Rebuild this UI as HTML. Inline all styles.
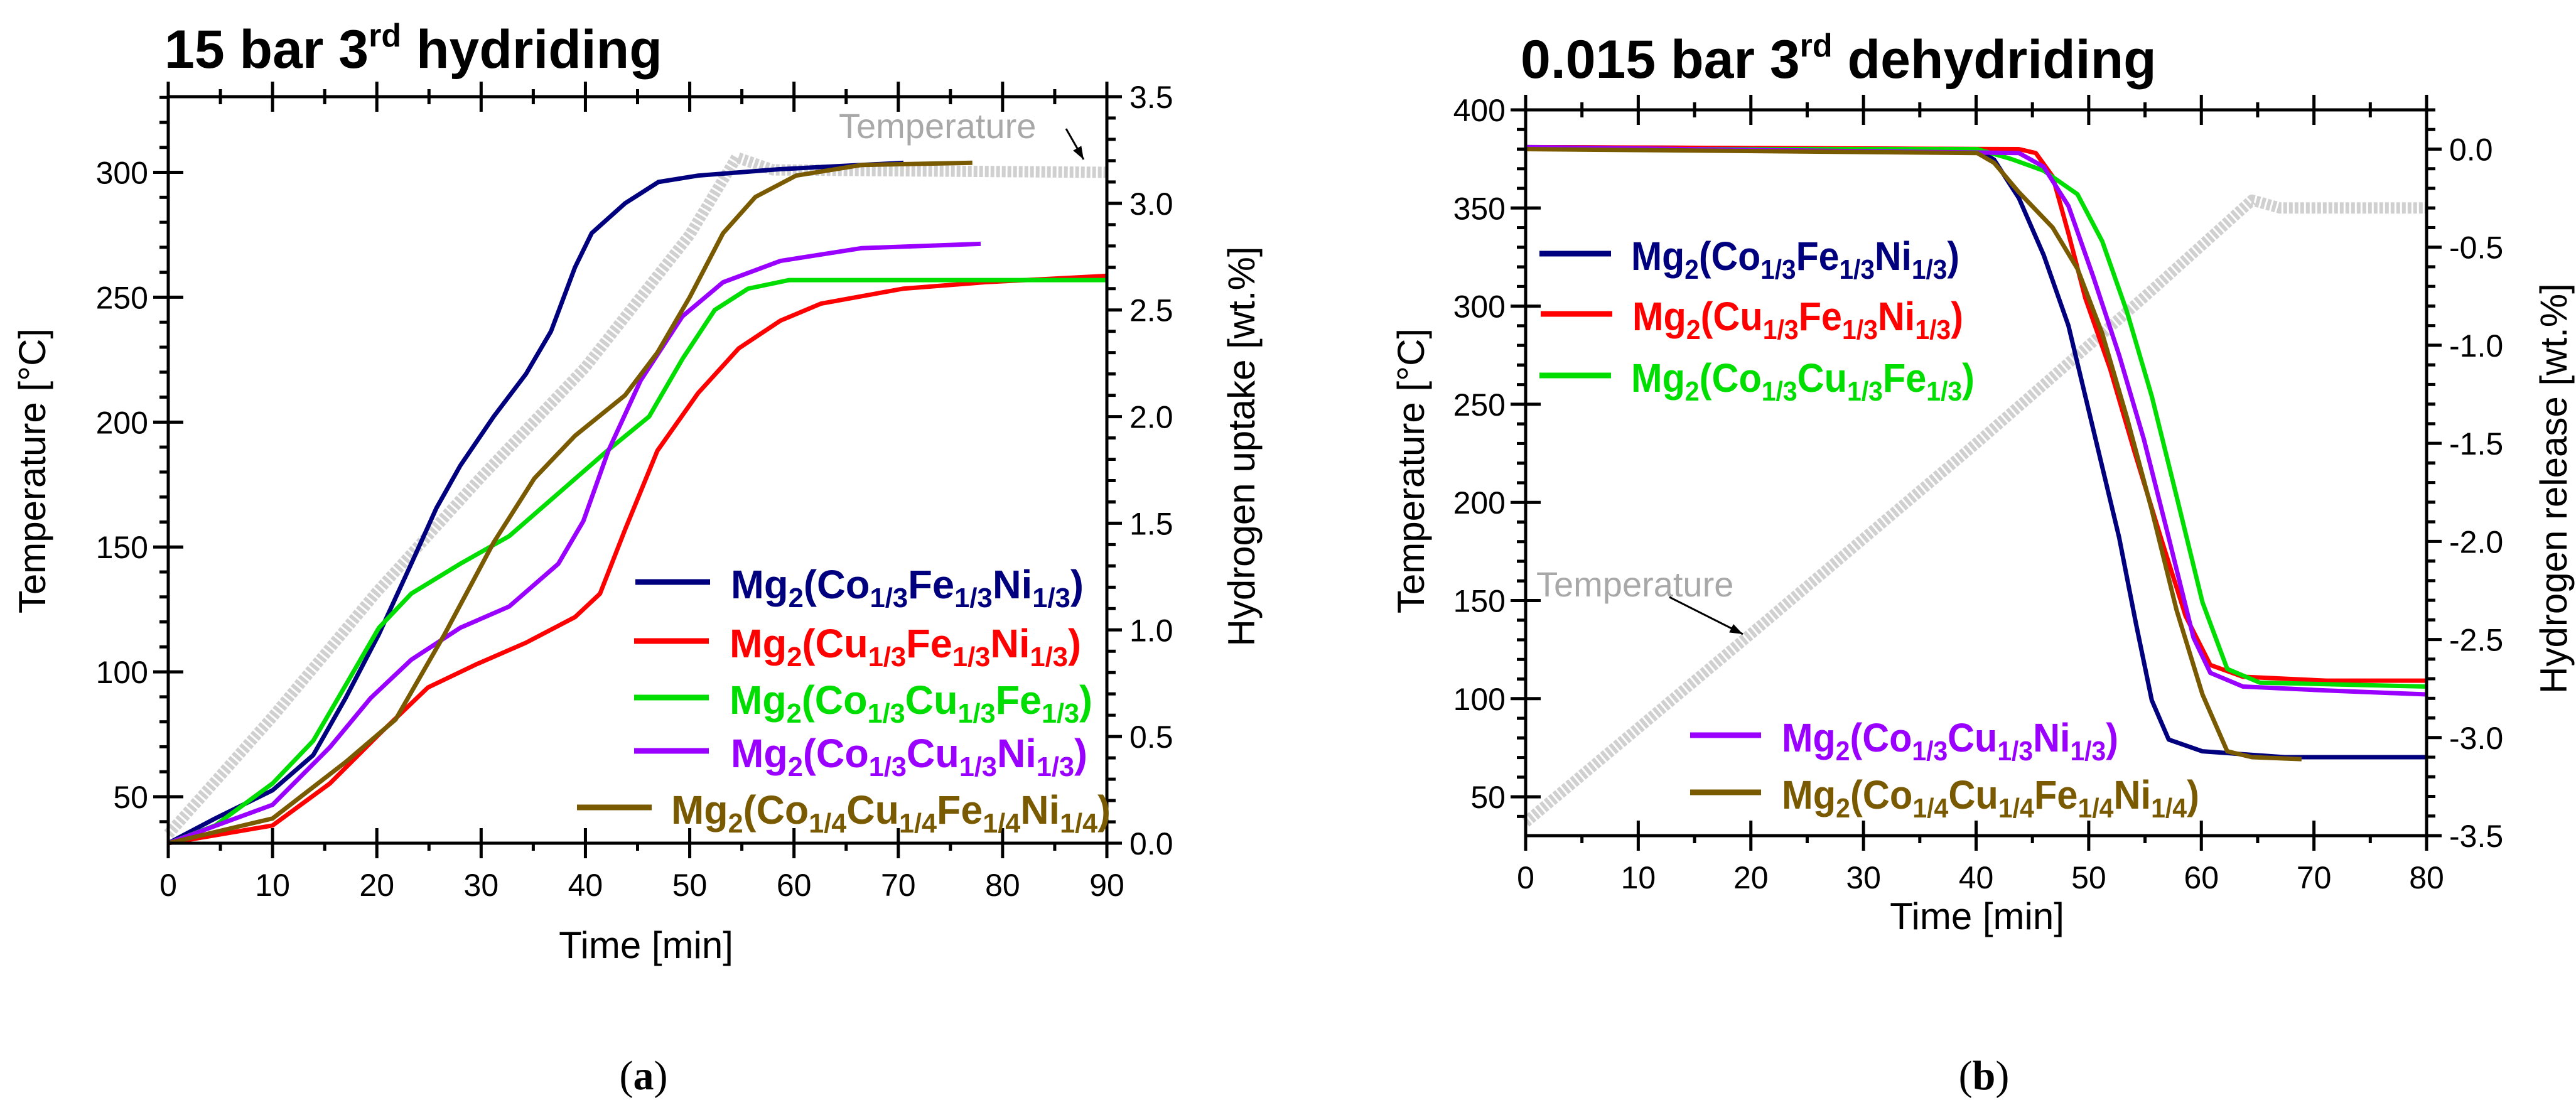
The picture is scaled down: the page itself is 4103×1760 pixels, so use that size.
<!DOCTYPE html>
<html><head><meta charset="utf-8"><style>
html,body{margin:0;padding:0;background:#fff;}
svg{display:block;font-family:"Liberation Sans",Arial,sans-serif;}
</style></head><body>
<svg id="fig" width="4103" height="1760" viewBox="0 0 4103 1760" xmlns="http://www.w3.org/2000/svg"></svg>
<script>
// ---------- Panel (a) data: hydriding, time [min] vs hydrogen uptake [wt.%]
const aCoFeNiT = [0,4.5,10,13.9,17,20.2,23.3,25.7,28,31.2,34.3,36.7,39,40.6,43.8,47,50.8,58.6,70.5];
const aCoFeNiH = [0,0.116,0.248,0.413,0.68,0.98,1.31,1.57,1.77,2.0,2.2,2.4,2.7,2.86,3.0,3.1,3.13,3.16,3.19];
const aCuFeNiT = [0,10,15.5,20.2,24.9,29.6,34.3,39,41.4,43.8,46.9,50.8,54.7,58.7,62.6,70.5,78.3,90];
const aCuFeNiH = [0,0.083,0.28,0.51,0.73,0.84,0.94,1.06,1.17,1.47,1.84,2.11,2.32,2.45,2.53,2.6,2.63,2.66];
const aCoCuFeT = [0,4.5,10,13.9,17,20.2,23.3,28,32.7,37.4,42.1,46.1,49.3,52.4,55.6,59.5,70.5,90];
const aCoCuFeH = [0,0.083,0.28,0.48,0.74,1.01,1.17,1.31,1.44,1.64,1.84,2.0,2.27,2.5,2.6,2.64,2.64,2.64];
const aCoCuNiT = [0,10,15.5,19.4,23.3,28,32.7,37.4,39.8,42.2,45.3,49.3,53.2,58.7,66.5,77.9];
const aCoCuNiH = [0,0.18,0.45,0.68,0.86,1.01,1.11,1.31,1.51,1.84,2.17,2.47,2.63,2.73,2.79,2.81];
const aHEAT = [0,10,17,21.8,26.5,31.2,35.1,39,43.8,46.9,50,53.2,56.3,60.2,66.5,77.1];
const aHEAH = [0,0.116,0.38,0.58,0.98,1.41,1.71,1.91,2.1,2.3,2.56,2.86,3.03,3.13,3.18,3.19];
const aTempT = [0,10,20,30,40,50,54.5,58,90];
const aTempV = [35,82,132,178,222,275,306,301,300];
const aXTicks = [0,10,20,30,40,50,60,70,80,90];
const aYTicks = [50,100,150,200,250,300];
const aY2Ticks = [0.0,0.5,1.0,1.5,2.0,2.5,3.0,3.5];

// ---------- Panel (b) data: dehydriding, time [min] vs hydrogen release [wt.%]
const bCoFeNiT = [0,40.1,41.6,43.8,46,48.2,49.7,51.2,52.7,54.2,55.6,57.1,60.1,67.4,80];
const bCoFeNiH = [0.01,0,-0.054,-0.25,-0.54,-0.9,-1.26,-1.62,-1.98,-2.42,-2.81,-3.01,-3.07,-3.1,-3.1];
const bCuFeNiT = [0,43.8,45.3,46.8,48.2,49.7,51.9,54.1,56.4,58.6,60.8,63.7,71.1,80];
const bCuFeNiH = [0.01,0,-0.02,-0.14,-0.43,-0.76,-1.12,-1.55,-1.98,-2.38,-2.63,-2.69,-2.71,-2.71];
const bCoCuFeT = [0,40.1,43.1,46,49,51.2,53.4,55.6,57.8,60.1,62.3,65.2,80];
const bCoCuFeH = [0,0,-0.05,-0.11,-0.23,-0.47,-0.83,-1.26,-1.77,-2.31,-2.65,-2.72,-2.74];
const bCoCuNiT = [0,43.8,46,48.2,50.4,52.7,54.9,57.1,59.3,60.8,63.7,71.1,80];
const bCoCuNiH = [0.01,-0.02,-0.09,-0.29,-0.65,-1.05,-1.48,-1.98,-2.49,-2.67,-2.74,-2.76,-2.78];
const bHEAT = [0,40.1,41.6,43.8,46.8,49,51.2,53.4,55.6,57.8,60.1,62.3,64.5,68.9];
const bHEAH = [0,-0.02,-0.07,-0.22,-0.4,-0.61,-0.94,-1.37,-1.84,-2.35,-2.78,-3.07,-3.1,-3.11];
const bTempT = [0,20,40,55,64.5,67,80];
const bTempV = [37,133,230,305,354,350,350];
const bXTicks = [0,10,20,30,40,50,60,70,80];
const bYTicks = [50,100,150,200,250,300,350,400];
const bY2Ticks = [0.0,-0.5,-1.0,-1.5,-2.0,-2.5,-3.0,-3.5];

const NS = "http://www.w3.org/2000/svg";
const svg = document.getElementById('fig');
function mk(tag, attrs, parent){
  const e = document.createElementNS(NS, tag);
  for (const k in attrs) e.setAttribute(k, attrs[k]);
  (parent||svg).appendChild(e);
  return e;
}
const COL = {navy:'#00007f', red:'#ff0000', green:'#00dd00', purple:'#9900ff', olive:'#7a5a00', gray:'#d0d0d0'};

function legendText(g, x, y, list, color, len){
  const t = mk('text', {x:x, y:y, fill:color, 'font-size':64, 'font-weight':'bold', textLength:len, lengthAdjust:'spacingAndGlyphs'}, g);
  
  
  let lowered = false;
  list.forEach(([m, s]) => {
    const a = document.createElementNS(NS, 'tspan');
    a.textContent = m;
    if (lowered) { a.setAttribute('dy', -14); lowered = false; }
    t.appendChild(a);
    if (s) {
      const b = document.createElementNS(NS, 'tspan');
      b.textContent = s;
      b.setAttribute('font-size', 44);
      b.setAttribute('dy', 14);
      t.appendChild(b);
      lowered = true;
    }
  });
  return t;
}

function panel(cfg){
  const g = mk('g', {});
  
  
  const {L, R, T, B, xmin, xmax, ymin, ymax, y2min, y2max} = cfg;
  const X = v => L + (v - xmin) / (xmax - xmin) * (R - L);
  const Y = v => B - (v - ymin) / (ymax - ymin) * (B - T);
  const Y2 = v => B - (v - y2min) / (y2max - y2min) * (B - T);

  const tp = mk('polyline', {points: cfg.tempT.map((t,i)=>X(t)+','+Y(cfg.tempV[i])).join(' '), fill:'none', stroke:COL.gray, 'stroke-width':18, 'stroke-linejoin':'round', 'stroke-dasharray':'6 3'}, g);
  
  

  cfg.series.forEach(s => {
    const p = mk('polyline', {points: s.t.map((t,i)=>X(t)+','+Y2(s.h[i])).join(' '), fill:'none', stroke:s.color, 'stroke-width':7, 'stroke-linejoin':'round'}, g);
    
    
  });

  const ax = mk('g', {stroke:'#000', 'stroke-width':5, fill:'none'}, g);
  
  
  mk('rect', {x:L, y:T, width:R-L, height:B-T}, ax);
  cfg.xTicks.forEach((v, i) => {
    mk('line', {x1:X(v), x2:X(v), y1:B-24, y2:B+24}, ax);
    mk('line', {x1:X(v), x2:X(v), y1:T-24, y2:T+24}, ax);
    if (i < cfg.xTicks.length - 1) {
      const m = X(v + (cfg.xTicks[1]-cfg.xTicks[0])/2);
      mk('line', {x1:m, x2:m, y1:B, y2:B+12}, ax);
      mk('line', {x1:m, x2:m, y1:T-12, y2:T+12}, ax);
    }
    const lb = mk('text', {x:X(v), y:B+84, 'text-anchor':'middle', 'font-size':50, fill:'#000', stroke:'none'}, g);
    lb.textContent = v;
    
    
  });
  for (let v = Math.ceil(ymin/10)*10; v <= ymax; v += 10) {
    const major = v % 50 === 0;
    mk('line', {x1:L-(major?24:14), x2:L+(major?24:0), y1:Y(v), y2:Y(v)}, ax);
  }
  cfg.yTicks.forEach(v => {
    const lb = mk('text', {x:L-32, y:Y(v)+18, 'text-anchor':'end', 'font-size':50, fill:'#000', stroke:'none'}, g);
    lb.textContent = v;
    
    
  });
  for (let k = Math.ceil(y2min*10); k <= Math.floor(y2max*10); k++) {
    const v = k/10, major = k % 5 === 0;
    mk('line', {x1:R, x2:R+(major?24:14), y1:Y2(v), y2:Y2(v)}, ax);
  }
  cfg.y2Ticks.forEach(v => {
    const lb = mk('text', {x:R+36, y:Y2(v)+18, 'text-anchor':'start', 'font-size':50, fill:'#000', stroke:'none'}, g);
    lb.textContent = v.toFixed(1);
    
    
  });

  const tt = mk('text', {x:cfg.titleX, y:cfg.titleY, 'font-size':86, 'font-weight':'bold', fill:'#000'}, g);
  
  
  tt.innerHTML = cfg.titleA + '<tspan font-size="52" dy="-34">rd</tspan><tspan dy="34"> ' + cfg.titleB + '</tspan>';

  const xt = mk('text', {x:cfg.xLabX, y:cfg.xLabY, 'text-anchor':'middle', 'font-size':60, fill:'#000'}, g);
  xt.textContent = 'Time [min]';
  
  
  const yt = mk('text', {x:0, y:0, 'text-anchor':'middle', 'font-size':60, fill:'#000', transform:`translate(${cfg.yLabX},${cfg.yLabY}) rotate(-90)`}, g);
  yt.textContent = 'Temperature [°C]';
  
  
  const y2t = mk('text', {x:0, y:0, 'text-anchor':'middle', 'font-size':60, fill:'#000', transform:`translate(${cfg.y2LabX},${cfg.y2LabY}) rotate(-90)`}, g);
  y2t.textContent = cfg.y2Label;
  
  

  const ta = mk('text', {x:cfg.tAnn[0], y:cfg.tAnn[1], 'font-size':56, fill:'#a8a8a8'}, g);
  ta.textContent = 'Temperature';
  
  
  const [x1,y1,x2,y2] = cfg.arrow;
  const ar = mk('g', {}, g);
  
  
  mk('line', {x1:x1, y1:y1, x2:x2, y2:y2, stroke:'#000', 'stroke-width':3}, ar);
  const ang = Math.atan2(y2-y1, x2-x1), hl = 22, hw = 0.35;
  mk('polygon', {points:`${x2},${y2} ${x2-hl*Math.cos(ang-hw)},${y2-hl*Math.sin(ang-hw)} ${x2-hl*Math.cos(ang+hw)},${y2-hl*Math.sin(ang+hw)}`, fill:'#000'}, ar);

  cfg.legend.forEach(e => {
    const lg = mk('g', {}, g);
    
    
    mk('line', {x1:e.lx1, x2:e.lx2, y1:e.y, y2:e.y, stroke:e.color, 'stroke-width':9}, lg);
    legendText(lg, e.tx, e.y + 26, e.f, e.color, e.len);
  });

  const pl = mk('text', {x:cfg.letterX, y:1735, 'text-anchor':'middle', 'font-size':66, 'font-family':'"Liberation Serif",serif', fill:'#000'}, g);
  pl.innerHTML = '(<tspan font-weight="bold">' + cfg.letter + '</tspan>)';
  
  
}

const F1 = [['Mg','2'],['(Co','1/3'],['Fe','1/3'],['Ni','1/3'],[')']];
const F2 = [['Mg','2'],['(Cu','1/3'],['Fe','1/3'],['Ni','1/3'],[')']];
const F3 = [['Mg','2'],['(Co','1/3'],['Cu','1/3'],['Fe','1/3'],[')']];
const F4 = [['Mg','2'],['(Co','1/3'],['Cu','1/3'],['Ni','1/3'],[')']];
const F5 = [['Mg','2'],['(Co','1/4'],['Cu','1/4'],['Fe','1/4'],['Ni','1/4'],[')']];

panel({
  name:'panel-a-hydriding', L:268, R:1763, T:154, B:1343, xmin:0, xmax:90, ymin:31.4, ymax:330.3, y2min:0, y2max:3.5,
  xTicks:aXTicks, yTicks:aYTicks, y2Ticks:aY2Ticks, tempT:aTempT, tempV:aTempV,
  series:[
    {id:'co-fe-ni', t:aCoFeNiT, h:aCoFeNiH, color:COL.navy},
    {id:'cu-fe-ni', t:aCuFeNiT, h:aCuFeNiH, color:COL.red},
    {id:'co-cu-fe', t:aCoCuFeT, h:aCoCuFeH, color:COL.green},
    {id:'co-cu-ni', t:aCoCuNiT, h:aCoCuNiH, color:COL.purple},
    {id:'co-cu-fe-ni', t:aHEAT, h:aHEAH, color:COL.olive}],
  titleX:262, titleY:108, titleA:'15 bar 3', titleB:'hydriding',
  xLabX:1029, xLabY:1526, yLabX:72, yLabY:750, y2LabX:1998, y2LabY:711, y2Label:'Hydrogen uptake [wt.%]',
  tAnn:[1336,220], arrow:[1698,205,1726,254],
  legend:[
    {lx1:1012,lx2:1131,tx:1164,y:927,color:COL.navy,f:F1,len:562},
    {lx1:1010,lx2:1129,tx:1162,y:1021,color:COL.red,f:F2,len:560},
    {lx1:1010,lx2:1129,tx:1162,y:1111,color:COL.green,f:F3,len:578},
    {lx1:1010,lx2:1129,tx:1164,y:1196,color:COL.purple,f:F4,len:568},
    {lx1:919,lx2:1038,tx:1069,y:1286,color:COL.olive,f:F5,len:700}],
  letter:'a', letterX:1025
});

panel({
  name:'panel-b-dehydriding', L:2430, R:3865, T:175, B:1331, xmin:0, xmax:80, ymin:30.2, ymax:400, y2min:-3.5, y2max:0.2,
  xTicks:bXTicks, yTicks:bYTicks, y2Ticks:bY2Ticks, tempT:bTempT, tempV:bTempV,
  series:[
    {id:'co-fe-ni', t:bCoFeNiT, h:bCoFeNiH, color:COL.navy},
    {id:'cu-fe-ni', t:bCuFeNiT, h:bCuFeNiH, color:COL.red},
    {id:'co-cu-fe', t:bCoCuFeT, h:bCoCuFeH, color:COL.green},
    {id:'co-cu-ni', t:bCoCuNiT, h:bCoCuNiH, color:COL.purple},
    {id:'co-cu-fe-ni', t:bHEAT, h:bHEAH, color:COL.olive}],
  titleX:2422, titleY:124, titleA:'0.015 bar 3', titleB:'dehydriding',
  xLabX:3149, xLabY:1480, yLabX:2268, yLabY:750, y2LabX:4088, y2LabY:778, y2Label:'Hydrogen release [wt.%]',
  tAnn:[2447,950], arrow:[2659,951,2776,1010],
  legend:[
    {lx1:2452,lx2:2566,tx:2598,y:404,color:COL.navy,f:F1,len:523},
    {lx1:2454,lx2:2568,tx:2600,y:500,color:COL.red,f:F2,len:527},
    {lx1:2452,lx2:2566,tx:2598,y:598,color:COL.green,f:F3,len:547},
    {lx1:2692,lx2:2805,tx:2838,y:1171,color:COL.purple,f:F4,len:536},
    {lx1:2692,lx2:2805,tx:2838,y:1262,color:COL.olive,f:F5,len:665}],
  letter:'b', letterX:3160
});
</script>
</body></html>
